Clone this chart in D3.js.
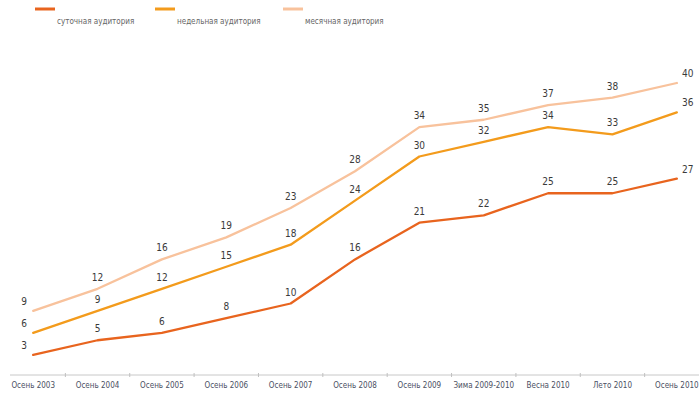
<!DOCTYPE html>
<html><head><meta charset="utf-8">
<script src="https://cdn.jsdelivr.net/npm/d3@7"></script>
<style>body{margin:0;background:#fff}svg{display:block}</style>
</head><body>
<script>
const categories = ["Осень 2003","Осень 2004","Осень 2005","Осень 2006","Осень 2007","Осень 2008","Осень 2009","Зима 2009-2010","Весна 2010","Лето 2010","Осень 2010"];
const daily   = [3,5,6,8,10,16,21,22,25,25,27];
const weekly  = [6,9,12,15,18,24,30,32,34,33,36];
const monthly = [9,12,16,19,23,28,34,35,37,38,40];
const seriesNames = ["суточная аудитория","недельная аудитория","месячная аудитория"];
const colors = ["#e8641e","#f39b1c","#f8c29c"];

const W = 699, H = 397;
const svg = d3.select("body").append("svg").attr("width", W).attr("height", H);

const x = d3.scaleBand().domain(categories).range([1, 709]).padding(0);
const cx = d => x(d) + x.bandwidth()/2;
const y = d3.scaleLinear().domain([0, 40]).range([377, 83]);
const font = "'Liberation Sans Narrow','DejaVu Sans Condensed',sans-serif";

// axis
const axisG = svg.append("g").attr("transform", "translate(0,375)")
  .call(d3.axisBottom(x).tickSize(0).tickPadding(7));
axisG.select(".domain").remove();
axisG.append("line").attr("x1", 10).attr("x2", W).attr("y1", 0).attr("y2", 0)
  .attr("stroke", "#c8c8c8").attr("stroke-width", 1);
axisG.selectAll(".bound").data(categories.slice(1)).enter().append("line")
  .attr("x1", d => x(d)).attr("x2", d => x(d)).attr("y1", -2).attr("y2", 2)
  .attr("stroke", "#c0c0c0");
axisG.selectAll(".tick text").attr("font-family", font)
  .attr("font-size", 8).attr("fill", "#4a4f63");

const series = [daily, weekly, monthly];
const line = d3.line().x((d,i) => cx(categories[i])).y(d => y(d));

[2,1,0].forEach(s => {
  svg.append("path").datum(series[s]).attr("d", line)
    .attr("fill", "none").attr("stroke", colors[s]).attr("stroke-width", 2.3)
    .attr("stroke-linejoin", "round").attr("stroke-linecap", "round");
});

const n = categories.length;
series.forEach((vals, s) => {
  svg.append("g").selectAll("text").data(vals).enter().append("text")
    .attr("x", (d,i) => i === 0 ? cx(categories[i]) - 9 : (i === n-1 ? cx(categories[i]) + 11 : cx(categories[i])))
    .attr("y", (d,i) => i === 0 ? y(d) - 6 : (i === n-1 ? y(d) - 6 : y(d) - 8))
    .attr("text-anchor", "middle")
    .attr("font-family", font)
    .attr("font-size", 10).attr("fill", "#3a3a3a")
    .text(d => d);
});

// legend
const legX = [35, 155, 283];
seriesNames.forEach((name, s) => {
  svg.append("line").attr("x1", legX[s]).attr("x2", legX[s] + 20).attr("y1", 9).attr("y2", 9)
    .attr("stroke", colors[s]).attr("stroke-width", 3);
  svg.append("text").attr("x", legX[s] + 22).attr("y", 24)
    .attr("font-family", font)
    .attr("font-size", 8).attr("fill", "#666").text(name);
});
</script>
</body></html>
